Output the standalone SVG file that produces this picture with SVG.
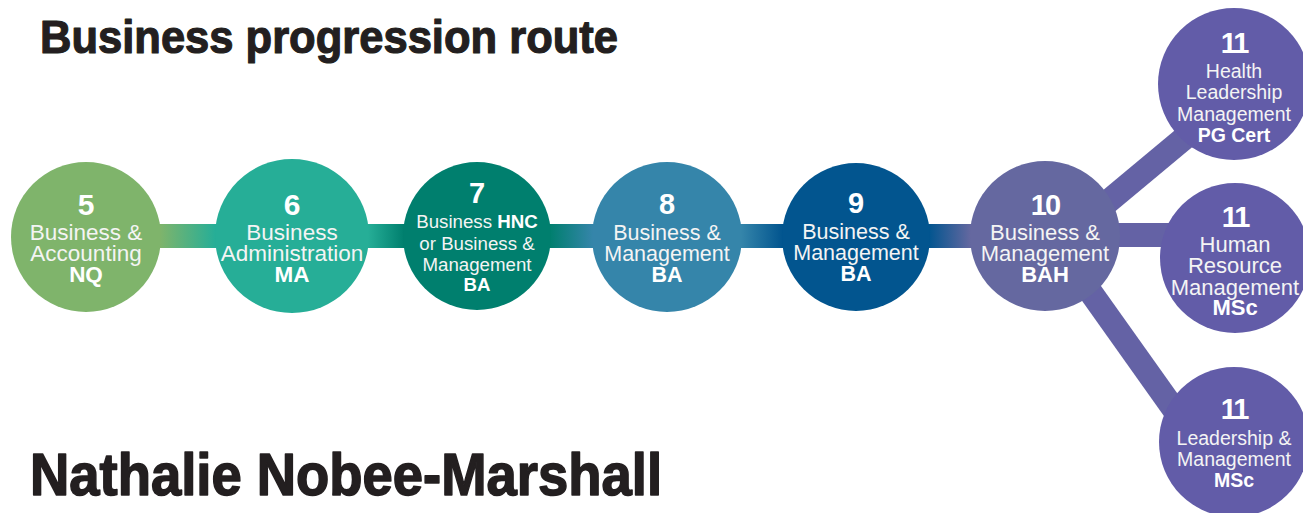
<svg xmlns="http://www.w3.org/2000/svg" width="1303" height="513" viewBox="0 0 1303 513">
<style>
.title{font-family:"Liberation Sans",Arial,sans-serif;font-weight:bold;fill:#231f20;stroke:#231f20;stroke-linejoin:round}
.num{font-family:"Liberation Sans",Arial,sans-serif;font-weight:bold;fill:#ffffff;text-anchor:middle}
.lbl{font-family:"Liberation Sans",Arial,sans-serif;fill:#f4f4f4;text-anchor:middle}
.b{font-weight:bold;fill:#ffffff}
</style>
<defs>
<linearGradient id="barGrad" gradientUnits="userSpaceOnUse" x1="0" y1="0" x2="1303" y2="0">
<stop offset="0.1228" stop-color="#7fb46b"/>
<stop offset="0.165" stop-color="#26ae97"/>
<stop offset="0.2824" stop-color="#26ae97"/>
<stop offset="0.31" stop-color="#007f6e"/>
<stop offset="0.4221" stop-color="#007f6e"/>
<stop offset="0.4551" stop-color="#3585aa"/>
<stop offset="0.5687" stop-color="#3585aa"/>
<stop offset="0.6002" stop-color="#02558f"/>
<stop offset="0.713" stop-color="#02558f"/>
<stop offset="0.7452" stop-color="#6568a0"/>
</linearGradient>
</defs>
<rect width="1303" height="513" fill="#ffffff"/>
<text class="title" x="40" y="53" font-size="47" stroke-width="1.2" textLength="578" lengthAdjust="spacingAndGlyphs">Business progression route</text>
<text class="title" x="30" y="495" font-size="60" stroke-width="1.6" textLength="632" lengthAdjust="spacingAndGlyphs">Nathalie Nobee-Marshall</text>
<g id="connectors">
<rect x="86" y="224" width="959" height="24" fill="url(#barGrad)"/>
<line x1="1050" y1="250" x2="1230" y2="100" stroke="#6462a5" stroke-width="24"/>
<line x1="1045" y1="235" x2="1235" y2="235" stroke="#6462a5" stroke-width="24"/>
<line x1="1045" y1="228" x2="1200" y2="446" stroke="#6462a5" stroke-width="24"/>
</g>
<g id="node5">
<circle cx="86" cy="237" r="75" fill="#7fb46b"/>
<text class="num" x="86" y="215" font-size="30">5</text>
<text class="lbl" font-size="22.5"><tspan x="86" y="240">Business &amp;</tspan><tspan x="86" y="261">Accounting</tspan><tspan x="86" y="282" class="b">NQ</tspan></text>
</g>
<g id="node6">
<circle cx="292" cy="236" r="77" fill="#26ae97"/>
<text class="num" x="292" y="215" font-size="30">6</text>
<text class="lbl" font-size="22.5"><tspan x="292" y="240">Business</tspan><tspan x="292" y="261">Administration</tspan><tspan x="292" y="282" class="b">MA</tspan></text>
</g>
<g id="node7">
<circle cx="477" cy="236" r="74" fill="#007f6e"/>
<text class="num" x="477" y="203" font-size="29">7</text>
<text class="lbl" font-size="18.7"><tspan x="477" y="228">Business <tspan class="b">HNC</tspan></tspan><tspan x="477" y="250">or Business &amp;</tspan><tspan x="477" y="271">Management</tspan><tspan x="477" y="291" class="b">BA</tspan></text>
</g>
<g id="node8">
<circle cx="667" cy="237" r="75" fill="#3585aa"/>
<text class="num" x="667" y="214" font-size="29">8</text>
<text class="lbl" font-size="21.5"><tspan x="667" y="240">Business &amp;</tspan><tspan x="667" y="261">Management</tspan><tspan x="667" y="282" class="b">BA</tspan></text>
</g>
<g id="node9">
<circle cx="856" cy="237" r="74" fill="#02558f"/>
<text class="num" x="856" y="213" font-size="29">9</text>
<text class="lbl" font-size="21.5"><tspan x="856" y="239">Business &amp;</tspan><tspan x="856" y="260">Management</tspan><tspan x="856" y="281" class="b">BA</tspan></text>
</g>
<g id="node10">
<circle cx="1045" cy="236" r="75" fill="#6568a0"/>
<text class="num" x="1045" y="215" font-size="29" letter-spacing="-2">10</text>
<text class="lbl" font-size="22"><tspan x="1045" y="240">Business &amp;</tspan><tspan x="1045" y="261">Management</tspan><tspan x="1045" y="282" class="b">BAH</tspan></text>
</g>
<g id="node11a">
<circle cx="1234" cy="84" r="76" fill="#625ca8"/>
<text class="num" x="1234" y="53" font-size="29" letter-spacing="-2">11</text>
<text class="lbl" font-size="19.5"><tspan x="1234" y="78">Health</tspan><tspan x="1234" y="99">Leadership</tspan><tspan x="1234" y="121">Management</tspan><tspan x="1234" y="142" class="b">PG Cert</tspan></text>
</g>
<g id="node11b">
<circle cx="1235" cy="258" r="75" fill="#625ca8"/>
<text class="num" x="1235" y="227" font-size="29" letter-spacing="-2">11</text>
<text class="lbl" font-size="22"><tspan x="1235" y="252">Human</tspan><tspan x="1235" y="273">Resource</tspan><tspan x="1235" y="295">Management</tspan><tspan x="1235" y="315" class="b">MSc</tspan></text>
</g>
<g id="node11c">
<circle cx="1234" cy="442" r="75" fill="#625ca8"/>
<text class="num" x="1234" y="419" font-size="29" letter-spacing="-2">11</text>
<text class="lbl" font-size="19.5"><tspan x="1234" y="445">Leadership &amp;</tspan><tspan x="1234" y="466">Management</tspan><tspan x="1234" y="487" class="b">MSc</tspan></text>
</g>
</svg>
